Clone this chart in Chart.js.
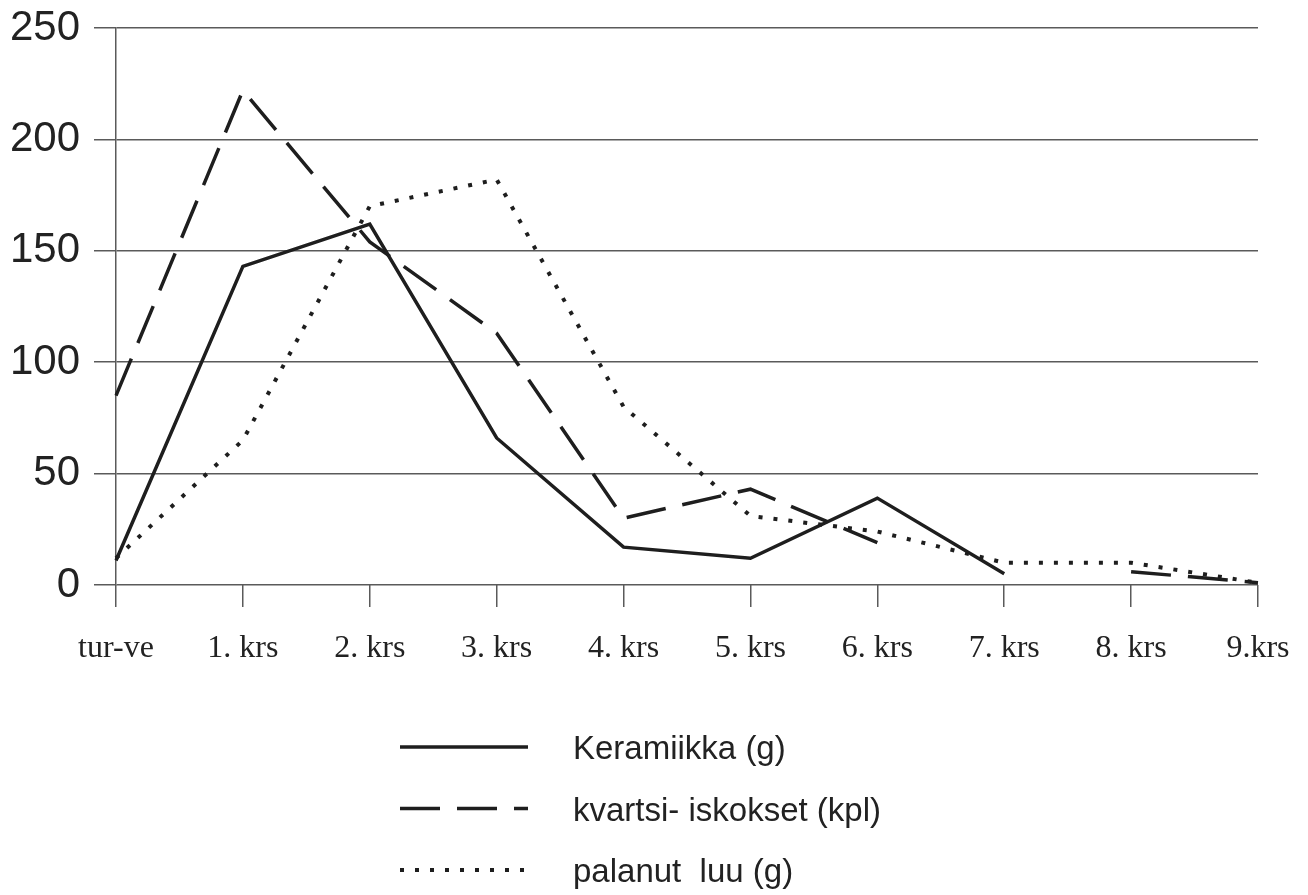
<!DOCTYPE html>
<html>
<head>
<meta charset="utf-8">
<script src="https://cdn.jsdelivr.net/npm/chart.js@4/dist/chart.umd.min.js"></script>
<style>
  html, body { margin: 0; padding: 0; background: #fff; }
  #wrap { width: 1308px; height: 895px; }
</style>
</head>
<body>
<div id="wrap"><canvas id="chart" width="1308" height="895"></canvas></div>
<script>
const layers = ["tur-ve", "1. krs", "2. krs", "3. krs", "4. krs", "5. krs", "6. krs", "7. krs", "8. krs", "9.krs"];
const keramiikka = [11, 143, 162, 66, 17, 12, 39, 5, null, null];
const kvartsi = [85, 222, 154, 113, 30, 43, 19, null, 6, 1];
const luu = [12, 65, 170, 182, 80, 31, 24, 10, 10, 1];
const yTicks = [0, 50, 100, 150, 200, 250];

const seriesNames = ["Keramiikka (g)", "kvartsi- iskokset (kpl)", "palanut  luu (g)"];
const LINE = "#1e1e1e";
const GRID = "#5a5a5a";

// legend below the plot, drawn by hand to get the sample lines right
const lineLegend = {
  id: "lineLegend",
  afterDraw(chart, args, opts) {
    const ctx = chart.ctx;
    ctx.save();
    chart.data.datasets.forEach((ds, i) => {
      const y = opts.top + i * opts.rowGap;
      ctx.strokeStyle = ds.borderColor;
      ctx.lineWidth = ds.borderWidth;
      ctx.setLineDash(ds.legendDash || []);
      ctx.beginPath();
      ctx.moveTo(opts.lineX, y);
      ctx.lineTo(opts.lineX + opts.lineW, y);
      ctx.stroke();
      ctx.setLineDash([]);
      ctx.fillStyle = "#222";
      ctx.font = opts.font;
      ctx.textBaseline = "middle";
      ctx.fillText(ds.label, opts.textX, y + 3);
    });
    ctx.restore();
  },
};

new Chart(document.getElementById("chart"), {
  type: "line",
  data: {
    labels: layers,
    datasets: [
      {
        label: seriesNames[0],
        data: keramiikka,
        borderColor: LINE,
        borderWidth: 3.5,
        pointRadius: 0,
      },
      {
        label: seriesNames[1],
        data: kvartsi,
        borderColor: LINE,
        borderWidth: 3.5,
        borderDash: [40, 17],
        legendDash: [40, 17],
        pointRadius: 0,
      },
      {
        label: seriesNames[2],
        data: luu,
        borderColor: LINE,
        borderWidth: 4,
        borderDash: [4, 11],
        legendDash: [4, 11],
        pointRadius: 0,
      },
    ],
  },
  options: {
    responsive: false,
    animation: false,
    spanGaps: false,
    layout: {
      padding: { top: 28, right: 50, bottom: 230, left: 0 },
    },
    scales: {
      x: {
        offset: false,
        grid: {
          drawOnChartArea: false,
          drawTicks: true,
          tickLength: 22,
          color: GRID,
          lineWidth: 1.5,
        },
        border: { display: false },
        ticks: {
          color: "#222",
          padding: 22,
          maxRotation: 0,
          autoSkip: false,
          font: { family: "Liberation Serif", size: 32 },
        },
        afterFit(scale) {
          scale.height = 80;
          scale.paddingLeft = 0;
          scale.paddingRight = 0;
        },
      },
      y: {
        min: 0,
        max: 250,
        afterBuildTicks(scale) {
          scale.ticks = yTicks.map((v) => ({ value: v }));
        },
        grid: {
          color: GRID,
          lineWidth: 1.5,
          tickLength: 22,
        },
        border: { display: true, color: GRID, width: 1.5 },
        ticks: {
          color: "#222",
          padding: 14,
          font: { family: "Liberation Sans", size: 42 },
        },
        afterFit(scale) {
          scale.width = 116;
          scale.paddingTop = 0;
          scale.paddingBottom = 0;
        },
      },
    },
    plugins: {
      legend: { display: false },
      tooltip: { enabled: false },
      lineLegend: {
        top: 747,
        rowGap: 61.5,
        lineX: 400,
        lineW: 128,
        textX: 573,
        font: "33px 'Liberation Sans'",
      },
    },
  },
  plugins: [lineLegend],
});
</script>
</body>
</html>
